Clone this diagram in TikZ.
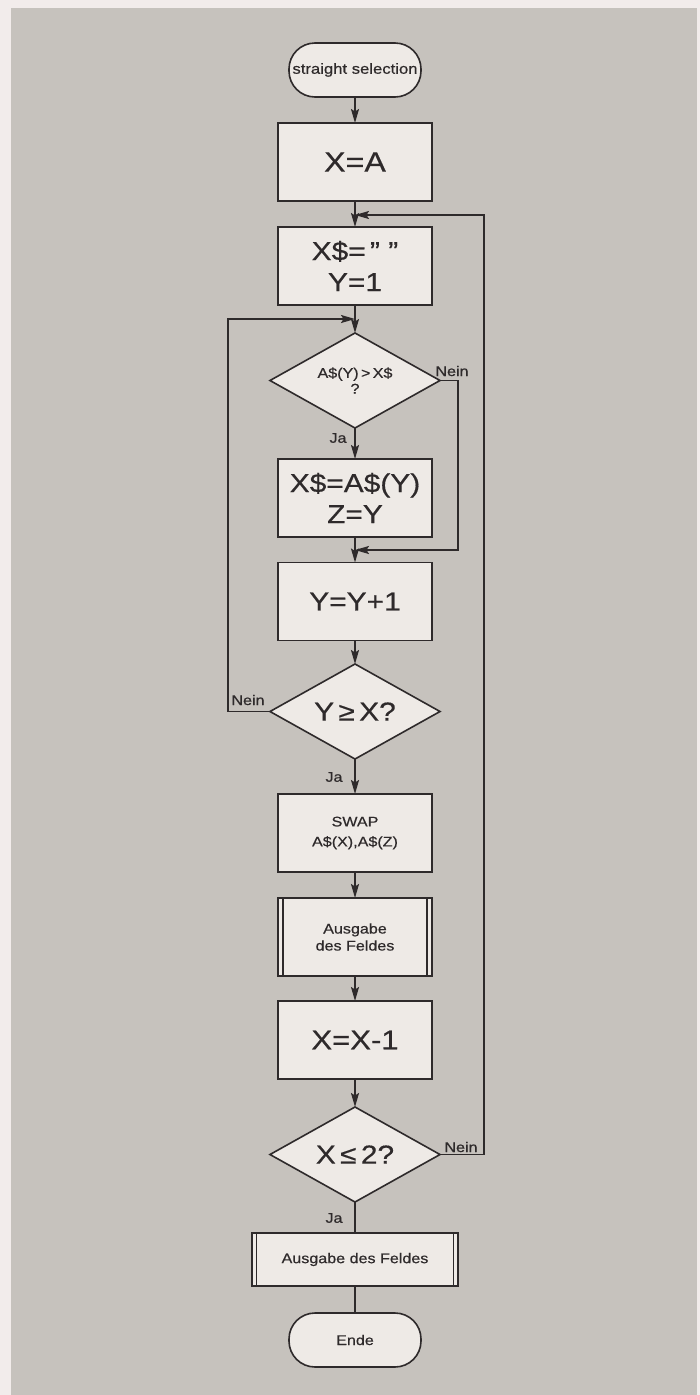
\documentclass[tikz,border=0pt]{standalone}
\usepackage{fontspec}
\newfontfamily\hv[FakeStretch=1.15,FakeBold=0.5]{Liberation Sans}
\usetikzlibrary{shapes.geometric,arrows.meta}
\definecolor{outer}{HTML}{F2ECEB}
\definecolor{panel}{HTML}{C6C2BD}
\definecolor{boxfill}{HTML}{EEEAE6}
\definecolor{ink}{HTML}{2E2A2B}
\tikzset{
  base/.style={draw=ink, fill=boxfill, line width=1.6pt, text=ink, inner sep=0pt, outer sep=0pt, align=center},
  proc/.style={base, rectangle, minimum width=154pt, minimum height=78pt},
  term/.style={base, rectangle, rounded corners=26pt, minimum width=132pt, minimum height=54pt},
  dec/.style={base, diamond, aspect=1.79, minimum width=170pt, minimum height=95pt},
  big/.style={font=\hv\fontsize{26}{31}\selectfont},
  small/.style={font=\hv\fontsize{14}{18}\selectfont},
  lbl/.style={text=ink, inner sep=0pt, font=\hv\fontsize{14}{16}\selectfont},
  arr/.style={draw=ink, line width=1.6pt, -{Stealth[length=14pt,width=8pt,inset=2.5pt]}},
  line/.style={draw=ink, line width=1.6pt},
  inner/.style={draw=ink, line width=1.2pt}
}
\begin{document}
\begin{tikzpicture}[x=1pt,y=-1pt]
\fill[outer] (0,0) rectangle (700,1395);
\fill[panel] (11,8) rectangle (697,1395);
\useasboundingbox (0,0) rectangle (700,1395);

\node[term, font=\hv\fontsize{14.5}{17}\selectfont] (start) at (355,70) {straight selection};
\node[proc, font=\hv\fontsize{28}{32}\selectfont] (b1) at (355,162) {X=A};
\node[proc, big] (b2) at (355,266) {X\$=\,” ”\\Y=1};
\node[dec, font=\hv\fontsize{14}{17}\selectfont] (d1) at (355,380.5) {\raisebox{-4pt}{\shortstack{A\$(Y)\,>\,X\$\\?}}};
\node[proc, big] (b3) at (355,498) {X\$=A\$(Y)\\Z=Y};
\node[proc, big] (b4) at (355,601.5) {Y=Y+1};
\node[dec, big] (d2) at (355,711.5) {Y\,≥\,X?};
\node[proc, font=\hv\fontsize{14}{20}\selectfont] (b5) at (355,833) {SWAP\\A\$(X),A\$(Z)};
\node[proc, font=\hv\fontsize{14}{17}\selectfont] (b6) at (355,937) {Ausgabe\\des Feldes};
\node[proc, font=\hv\fontsize{27}{31}\selectfont] (b7) at (355,1040) {X=X-1};
\node[dec, big] (d3) at (355,1154.5) {X\,≤\,2?};
\node[proc, small, minimum width=206pt, minimum height=53pt] (b8) at (355,1259.5) {Ausgabe des Feldes};
\node[term, small] (end) at (355,1340) {Ende};

% double side bars
\draw[inner] ([xshift=5pt]b6.north west) -- ([xshift=5pt]b6.south west);
\draw[inner] ([xshift=-5pt]b6.north east) -- ([xshift=-5pt]b6.south east);
\draw[inner] ([xshift=4.5pt]b8.north west) -- ([xshift=4.5pt]b8.south west);
\draw[inner] ([xshift=-4.5pt]b8.north east) -- ([xshift=-4.5pt]b8.south east);

% junctions and corners
\coordinate (j1) at (355,215);
\coordinate (rtop) at (484,215);
\coordinate (j2) at (355,319);
\coordinate (ltop) at (228,319);
\coordinate (j3) at (355,550);
\coordinate (rn) at (458,550);

% main flow
\draw[arr] (start) -- (b1);
\draw[arr] (b1) -- (b2);
\draw[arr] (b2) -- (d1);
\draw[arr] (d1) -- (b3);
\draw[arr] (b3) -- (b4);
\draw[arr] (b4) -- (d2);
\draw[arr] (d2) -- (b5);
\draw[arr] (b5) -- (b6);
\draw[arr] (b6) -- (b7);
\draw[arr] (b7) -- (d3);
\draw[line] (d3) -- (b8);
\draw[line] (b8) -- (end);

% loops
\draw[arr] (d3.east) -| (rtop) -- (j1);
\draw[arr] (d2.west) -| (ltop) -- (j2);
\draw[arr] (d1.east) -| (rn) -- (j3);

% labels
\node[lbl] (n1) at (452,371) {Nein};
\node[lbl] (ja1) at (338,438) {Ja};
\node[lbl] (n2) at (248,700) {Nein};
\node[lbl] (ja2) at (334,777) {Ja};
\node[lbl] (n3) at (461,1147) {Nein};
\node[lbl] (ja3) at (334,1218) {Ja};
\end{tikzpicture}
\end{document}
